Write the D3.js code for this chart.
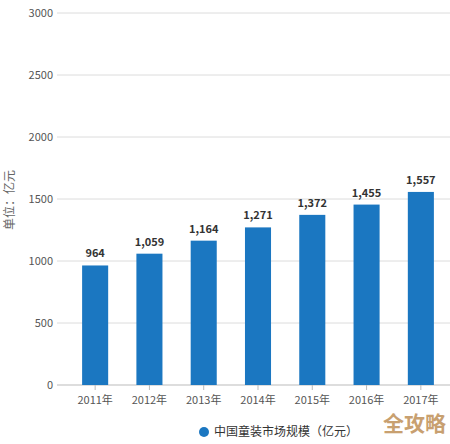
<!DOCTYPE html>
<html><head><meta charset="utf-8">
<script src="https://cdn.jsdelivr.net/npm/d3@7"></script>
<style>body{margin:0;background:#fff;}svg{display:block;font-family:"Noto Sans CJK SC","Noto Sans",sans-serif;}</style>
</head><body>
<script>
const categories = ["2011年","2012年","2013年","2014年","2015年","2016年","2017年"];
const values = [964,1059,1164,1271,1372,1455,1557];
const yTicks = [0,500,1000,1500,2000,2500,3000];
const seriesName = "中国童装市场规模（亿元）";
const yTitle = "单位：亿元";

const W=450,H=444;
const svg=d3.select("body").append("svg").attr("width",W).attr("height",H);
const x=d3.scaleBand().domain(categories).range([68,448]).paddingInner(0.52).paddingOuter(0.26);
const y=d3.scaleLinear().domain([0,3000]).range([385,13]);

// grid
svg.append("g").selectAll("line").data(yTicks.filter(d=>d>0)).join("line")
  .attr("x1",57).attr("x2",450).attr("y1",d=>y(d)).attr("y2",d=>y(d))
  .attr("stroke","#dcdcdc").attr("stroke-width",1);
// y labels
svg.append("g").selectAll("text").data(yTicks).join("text")
  .attr("x",53).attr("y",d=>y(d)).attr("dy","0.35em").attr("text-anchor","end")
  .attr("font-size",11).attr("fill","#555").text(d=>d);
// x axis
const xa=svg.append("g").attr("transform",`translate(0,${y(0)})`);
xa.append("line").attr("x1",57).attr("x2",450).attr("stroke","#bbb");
xa.selectAll(".t").data(categories).join("line").attr("class","t")
  .attr("x1",d=>x(d)+x.bandwidth()/2).attr("x2",d=>x(d)+x.bandwidth()/2).attr("y1",0).attr("y2",5).attr("stroke","#bbb");
xa.selectAll("text").data(categories).join("text")
  .attr("x",d=>x(d)+x.bandwidth()/2).attr("y",15).attr("dy","0.35em").attr("text-anchor","middle")
  .attr("font-size",11).attr("fill","#555").text(d=>d);
// bars
svg.append("g").selectAll("rect").data(values).join("rect")
  .attr("x",(d,i)=>x(categories[i])).attr("width",x.bandwidth())
  .attr("y",d=>y(d)).attr("height",d=>y(0)-y(d)).attr("fill","#1b77c1");
// value labels
svg.append("g").selectAll("text").data(values).join("text")
  .attr("x",(d,i)=>x(categories[i])+x.bandwidth()/2).attr("y",d=>y(d)-8)
  .attr("text-anchor","middle").attr("font-size",11).attr("font-weight","bold").attr("fill","#333")
  .text(d=>d3.format(",")(d));
// y title
svg.append("text").attr("transform","translate(14,200) rotate(-90)").attr("text-anchor","middle")
  .attr("font-size",12).attr("fill","#666").text(yTitle);
// legend
svg.append("circle").attr("cx",204).attr("cy",432).attr("r",5).attr("fill","#1b77c1");
svg.append("text").attr("x",214).attr("y",432).attr("dy","0.35em").attr("font-size",12).attr("fill","#333").text(seriesName);
// watermark
svg.append("text").attr("x",446).attr("y",424).attr("dy","0.35em").attr("text-anchor","end")
  .attr("font-size",21).attr("font-weight","bold").attr("fill","#c8a070").text("全攻略");
</script>
</body></html>
